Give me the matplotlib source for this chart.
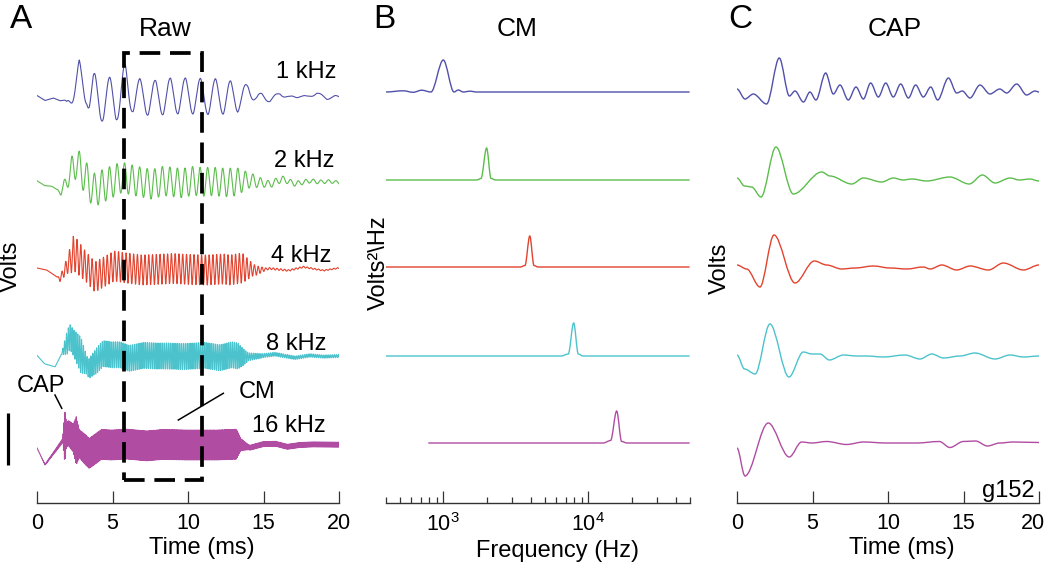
import matplotlib
matplotlib.use('Agg')
import matplotlib.pyplot as plt
import matplotlib.transforms as mtransforms
import numpy as np
from matplotlib.path import Path
from matplotlib.patches import PathPatch, Rectangle

plt.rcParams['font.family'] = 'Liberation Sans'

# %% data (amplitudes in arbitrary display units)
labels = ['1 kHz', '2 kHz', '4 kHz', '8 kHz', '16 kHz']
stim_khz = [1, 2, 4, 8, 16]
colors = ['#5050aa', '#5cbd4c', '#e2432e', '#4cc3cc', '#b04ca2']

# CAP traces (panel C): extrema, time in ms
cap_t_1k = [0.0, 0.53, 1.08, 1.96, 2.80, 3.47, 3.84, 4.40, 4.83, 5.23, 5.87, 6.38,
            6.82, 7.37, 7.88, 8.37, 8.85, 9.36, 9.85, 10.35, 10.84, 11.35, 11.83,
            12.34, 12.83, 13.29, 14.00, 14.55, 14.92, 15.43, 16.09, 16.75, 17.40,
            17.86, 18.52, 19.18, 19.73, 20.0]
cap_v_1k = [3, -7, -2, -12, 34, -4, 1, -10, 0, -8, 19, -2, 7, -8, 5, -7, 9, -5, 9,
            -5, 8, -6, 7, -5, 5, -8, 14, -1, 1, -6, 7, -2, 3, -1, 8, -3, 1, 0]
cap_t_2k = [0.0, 0.5, 0.97, 1.59, 2.58, 3.73, 5.61, 6.16, 7.6, 8.37, 9.58, 10.35,
            11.0, 11.57, 12.56, 14.1, 15.38, 16.25, 17.09, 18.08, 18.7, 19.4, 20.0]
cap_v_2k = [2, -6, -7, -17, 33, -14, 8, 4, -4, 2, -2, 2, 0, 1, -1, 3, -4, 5, -3, 2,
            0, 1, -1]
cap_t_4k = [0.0, 0.64, 1.52, 2.45, 3.84, 5.12, 5.94, 6.93, 7.82, 9.03, 10.14,
            11.24, 12.34, 12.8, 13.56, 14.55, 15.44, 16.65, 17.64, 18.97, 20.0]
cap_v_4k = [2, -2, -20, 32, -16, 6, 2, -2, -1, 1, -1, -2, 0, -2, 2, -3, 1, -3, 4,
            -3, 2]
cap_t_8k = [0.0, 0.5, 1.2, 2.18, 3.44, 4.39, 4.95, 5.5, 6.12, 7.05, 7.93, 8.59,
            9.69, 11.13, 12.12, 12.9, 13.67, 14.77, 15.76, 17.09, 18.08, 18.97, 20.0]
cap_v_8k = [1, -13, -18, 32, -21, 4, 2, 2, -4, 1, 0, 0, -1, 1, -3, 2, -2, 0, 3, -3,
            1, -1, 0]
cap_t_16k = [0.0, 0.53, 2.07, 3.46, 4.28, 4.95, 5.94, 7.26, 8.37, 9.9, 11.9, 13.4,
             14.1, 14.99, 15.8, 16.58, 17.4, 18.3, 20.0]
cap_v_16k = [-5, -33, 20, -14, 1, 0, 1.5, -1.5, 1, 0, 0, 1.5, -4.5, 1.5, 2, -3, 0,
             1, 0.5]

# CM envelope of the raw recordings (panel A), half peak-to-peak
env_t_1k = [0, 1.4, 2.0, 2.8, 3.3, 3.7, 4.3, 5.3, 5.8, 6.3, 12.6, 13.5, 14.6,
            15.5, 20]
env_a_1k = [0, 0, 3, 20, 10, 24, 20, 20, 25, 15, 15, 10, 4, 2, 1]
env_t_2k = [0, 1.3, 2.0, 2.4, 3.5, 5.0, 6.0, 13.2, 14.0, 15.0, 17.0, 20]
env_a_2k = [0, 0, 8, 16, 17, 16, 15, 14, 8, 4, 2.5, 1.5]
env_t_4k = [0, 1.3, 2.0, 2.4, 3.2, 5.0, 13.6, 14.3, 15.2, 20]
env_a_4k = [0, 0, 8, 18, 15, 15, 15, 6, 1, 0.5]
env_t_8k = [0, 1.6, 2.0, 2.4, 2.9, 3.3, 4.0, 13.3, 14.0, 15.0, 20]
env_a_8k = [0, 0, 12, 13, 18, 9, 13, 13, 4, 2, 1.5]
env_t_16k = [0, 1.7, 1.85, 1.95, 2.4, 2.6, 2.8, 3.2, 4.0, 13.2, 13.5, 14.0, 20]
env_a_16k = [0, 2, 26, 12, 14, 24, 14, 15, 15, 15, 6, 2.5, 2.5]
cap_gain = [0.5, 0.6, 0.5, 0.6, 0.6]
cm_peak_ms = [2.8, 2.3, 2.4, 2.2, 1.85]

# CM spectra (panel B)
spec_f_1k = [400, 530, 621, 709, 822, 1000, 1185, 1268, 1373, 1528, 1700, 50000]
spec_v_1k = [0, 1.2, -0.3, 1.8, 0, 32, 0, 2, 0, 0.8, 0, 0]
spec_f_2k = [400, 1700, 1820, 1990, 2134, 2300, 50000]
spec_v_2k = [0, 0, 1.5, 32, 1.5, 0, 0]
spec_f_4k = [400, 3400, 3659, 3950, 4223, 4500, 50000]
spec_v_4k = [0, 0, 1.5, 31, 1.5, 0, 0]
spec_f_8k = [400, 6500, 7280, 7930, 8536, 9200, 50000]
spec_v_8k = [0, 0, 2, 33, 2, 0, 0]
spec_f_16k = [788, 12700, 14260, 15700, 16990, 18500, 50000]
spec_v_16k = [0, 0, 2.5, 32, 1.5, 0, 0]

window_ms = [5.76, 10.9]

cap_t = [cap_t_1k, cap_t_2k, cap_t_4k, cap_t_8k, cap_t_16k]
cap_v = [cap_v_1k, cap_v_2k, cap_v_4k, cap_v_8k, cap_v_16k]
env_t = [env_t_1k, env_t_2k, env_t_4k, env_t_8k, env_t_16k]
env_a = [env_a_1k, env_a_2k, env_a_4k, env_a_8k, env_a_16k]
spec_f = [spec_f_1k, spec_f_2k, spec_f_4k, spec_f_8k, spec_f_16k]
spec_v = [spec_v_1k, spec_v_2k, spec_v_4k, spec_v_8k, spec_v_16k]


# %% helpers
W, H = 1050, 566


def fx(x):
    return x / W


def fy(y):
    return 1 - y / H


def wave_path(x, y, logx=False):
    # smooth curve through the read extrema (flat tangent at each point)
    verts = [(x[0], y[0])]
    codes = [Path.MOVETO]
    for i in range(1, len(x)):
        x0, x1 = x[i - 1], x[i]
        if logx:
            c1, c2 = x0 * (x1 / x0) ** (1 / 3), x0 * (x1 / x0) ** (2 / 3)
        else:
            c1, c2 = x0 + (x1 - x0) / 3, x0 + 2 * (x1 - x0) / 3
        verts += [(c1, y[i - 1]), (c2, y[i]), (x1, y[i])]
        codes += [Path.CURVE4] * 3
    return Path(verts, codes)


def style_axis(ax):
    for s in ['left', 'top', 'right']:
        ax.spines[s].set_visible(False)
    ax.spines['bottom'].set_color('#333333')
    ax.spines['bottom'].set_linewidth(1.0)
    ax.set_yticks([])
    ax.set_ylim(0, 463)
    ax.patch.set_alpha(0)
    ax.tick_params(axis='x', which='major', direction='in', length=8.4, width=0.9,
                   color='#333333', pad=7.2, labelsize=15.5)
    ax.tick_params(axis='x', which='minor', direction='in', length=4.1, width=0.9,
                   color='#333333')


# %% figure
fig = plt.figure(figsize=(W / 100, H / 100), dpi=100)
axA = fig.add_axes([fx(37), 63 / H, 302 / W, 463 / H])
axB = fig.add_axes([fx(385.6), 63 / H, 304 / W, 463 / H])
axC = fig.add_axes([fx(737), 63 / H, 302 / W, 463 / H])

offsets = [411, 323, 236, 147, 60]
offsets_a = [406, 321, 234, 147, 58]

# Panel A: raw = CM (tone-following) + CAP
t_raw = np.arange(0, 20.0001, 0.004)
for i in range(5):
    env = np.interp(t_raw, env_t[i], env_a[i])
    cm = env * np.cos(2 * np.pi * stim_khz[i] * (t_raw - cm_peak_ms[i]))
    cap = cap_gain[i] * np.interp(t_raw, cap_t[i], cap_v[i])
    axA.plot(t_raw, offsets_a[i] + cm + cap, color=colors[i], lw=0.8)

axA.add_patch(Rectangle((window_ms[0], 23), window_ms[1] - window_ms[0], 427,
                        fill=False, ec='black', lw=2.7,
                        linestyle=(0, (5.5, 2.6)), zorder=5))
axA.plot([-1.92, -1.92], [38, 90], color='black', lw=2.3, clip_on=False,
         solid_capstyle='butt')
axA.plot([1.19, 1.64], [108, 94.7], color='black', lw=1.1, clip_on=False)
axA.plot([12.34, 9.36], [109.7, 83], color='black', lw=1.1, clip_on=False)
axA.set_xlim(0, 20)
axA.set_xticks([0, 5, 10, 15, 20])
style_axis(axA)

# Panel B: CM spectra
for i in range(5):
    shifted = [offsets[i] + v for v in spec_v[i]]
    axB.add_patch(PathPatch(wave_path(spec_f[i], shifted, logx=True),
                            fill=False, ec=colors[i], lw=1.0))
axB.set_xscale('log')
axB.set_xlim(400, 50000)
axB.set_xticks([1e3, 1e4])
axB.set_xticklabels([r'$\mathregular{10^3}$', r'$\mathregular{10^4}$'])
minor = [400, 500, 600, 700, 800, 900] + [k * 1000 for k in range(2, 10)] + \
    [k * 10000 for k in range(2, 6)]
axB.set_xticks(minor, minor=True)
axB.set_xticklabels([], minor=True)
style_axis(axB)

# Panel C: CAP
for i in range(5):
    shifted = [offsets[i] + v for v in cap_v[i]]
    axC.add_patch(PathPatch(wave_path(cap_t[i], shifted), fill=False,
                            ec=colors[i], lw=1.0))
axC.set_xlim(0, 20)
axC.set_xticks([0, 5, 10, 15, 20])
style_axis(axC)

# keep the last "20" inside the picture
last = axC.get_xticklabels()[-1]
last.set_horizontalalignment('right')
last.set_transform(last.get_transform() +
                   mtransforms.ScaledTranslation(0.06, 0, fig.dpi_scale_trans))

# %% text
fs = 17
fts = 19
fig.text(fx(21), fy(19), 'A', fontsize=24, ha='center', va='center')
fig.text(fx(384), fy(19), 'B', fontsize=24, ha='center', va='center')
fig.text(fx(740), fy(19), 'C', fontsize=24, ha='center', va='center')
fig.text(fx(165), fy(36), 'Raw', fontsize=fts, ha='center', va='baseline')
fig.text(fx(517), fy(36.5), 'CM', fontsize=fts, ha='center', va='baseline')
fig.text(fx(895), fy(36.5), 'CAP', fontsize=fts, ha='center', va='baseline')

label_right = [336, 334, 331, 326, 326]
label_base = [78, 167, 262, 350, 432]
for i in range(5):
    fig.text(fx(label_right[i]), fy(label_base[i]), labels[i], fontsize=fs,
             ha='right', va='baseline')
fig.text(fx(41), fy(392), 'CAP', fontsize=fs, ha='center', va='baseline')
fig.text(fx(257.5), fy(398), 'CM', fontsize=fs, ha='center', va='baseline')

fig.text(fx(11), fy(266), 'Volts', fontsize=fs, rotation=90, ha='center',
         va='center')
fig.text(fx(379), fy(263), 'Volts\u00b2\\Hz', fontsize=fs, rotation=90,
         ha='center', va='center')
fig.text(fx(720), fy(268), 'Volts', fontsize=fs, rotation=90, ha='center',
         va='center')

fig.text(fx(202), fy(554), 'Time (ms)', fontsize=fs, ha='center', va='baseline')
fig.text(fx(557), fy(557), 'Frequency (Hz)', fontsize=fs, ha='center',
         va='baseline')
fig.text(fx(902), fy(554), 'Time (ms)', fontsize=fs, ha='center', va='baseline')
fig.text(fx(1035), fy(497), 'g152', fontsize=fs, ha='right', va='baseline')

fig.savefig('out.png', dpi=100)
